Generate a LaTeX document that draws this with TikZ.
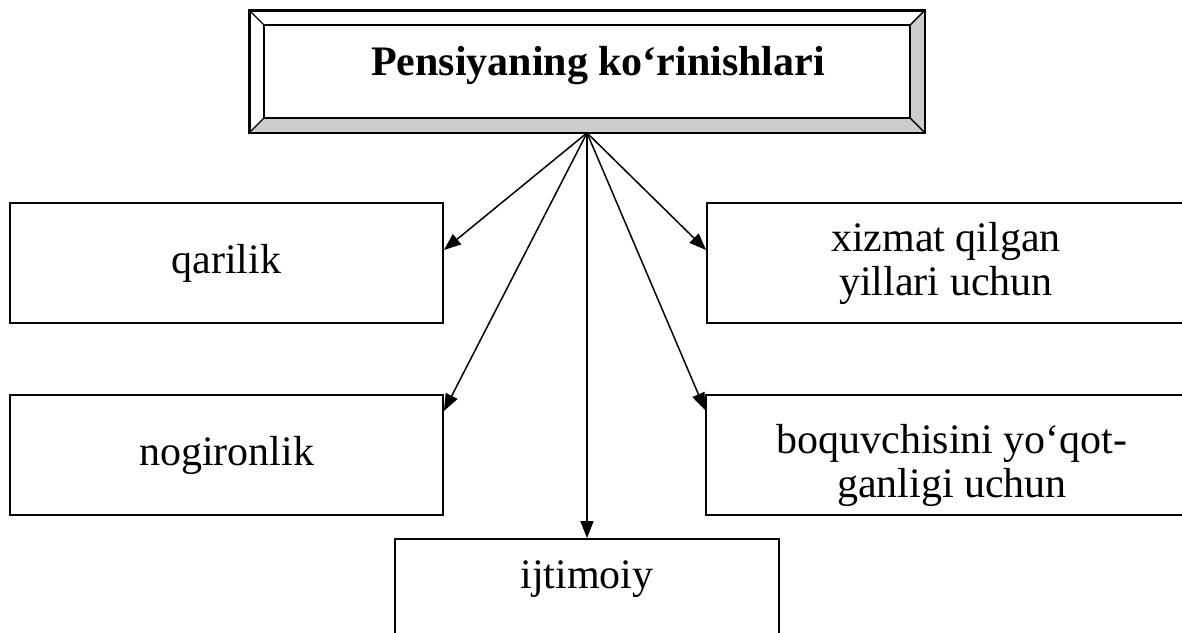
\documentclass[tikz,border=0pt]{standalone}
\usepackage{fontspec}
\setmainfont{Liberation Serif}
\usetikzlibrary{arrows.meta,calc}
\definecolor{bevelgrey}{HTML}{CCCCCC}
\begin{document}
\begin{tikzpicture}[x=1pt,y=-1pt,
  box/.style={draw=black,line width=1.8pt,rectangle,inner sep=0pt,
    font=\fontsize{42}{44}\selectfont,align=center},
  frame/.style={draw=black,line width=1.8pt,rectangle,inner sep=0pt,
    minimum width=674pt,minimum height=121pt},
  titletext/.style={font=\bfseries\fontsize{42}{44}\selectfont,anchor=base,inner sep=0pt},
  conn/.style={line width=1.5pt,-{Triangle[length=17pt,width=13pt]}}
]
\useasboundingbox (0,0) rectangle (1182,632);
\clip (0,0) rectangle (1182,632);
\fill[white] (0,0) rectangle (1182,632);

% top bevelled frame
\node[frame] (top) at (587,71.5) {};
\fill[bevelgrey] (top.south west) -- (top.south east) -- (top.north east)
  -- ($(top.north east)+(-15,15)$) -- ($(top.south east)+(-15,-15)$)
  -- ($(top.south west)+(15,-15)$) -- cycle;
\draw[line width=1.8pt] (top.south west) rectangle (top.north east);
\draw[line width=1.4pt] ($(top.north west)+(15,15)$) rectangle ($(top.south east)+(-15,-15)$);
\draw[line width=1.4pt] (top.north west) -- ($(top.north west)+(15,15)$);
\draw[line width=1.4pt] (top.north east) -- ($(top.north east)+(-15,15)$);
\draw[line width=1.4pt] (top.south west) -- ($(top.south west)+(15,-15)$);
\draw[line width=1.4pt] (top.south east) -- ($(top.south east)+(-15,-15)$);
\node[titletext] (title) at (598,75) {Pensiyaning ko‘rinishlari};

% boxes
\node[box,minimum width=433pt,minimum height=120pt] (qarilik) at (226.5,263) {qarilik};
\node[box,minimum width=433pt,minimum height=120pt] (nogiron) at (226.5,455) {nogironlik};
\node[box,minimum width=478pt,minimum height=120pt] (xizmat) at (946,263) {xizmat qilgan\\yillari uchun};
\node[box,minimum width=479pt,minimum height=120pt] (boquv) at (945.5,455) {};
\node[font=\fontsize{42}{44}\selectfont,align=center,inner sep=0pt] (boquvtext) at (952,465) {boquvchisini yo‘qot-\\ganligi uchun};
\node[box,minimum width=384pt,minimum height=121pt,text height=30pt,text depth=53pt] (ijtimoiy) at (587,599.5) {ijtimoiy};

% connectors
\draw[conn] (top.south) -- ([yshift=13pt]qarilik.east);
\draw[conn] (top.south) -- ([yshift=44pt]nogiron.east);
\draw[conn] (top.south) -- (ijtimoiy.north);
\draw[conn] (top.south) -- ([yshift=45pt]boquv.west);
\draw[conn] (top.south) -- ([yshift=13pt]xizmat.west);
\end{tikzpicture}
\end{document}
